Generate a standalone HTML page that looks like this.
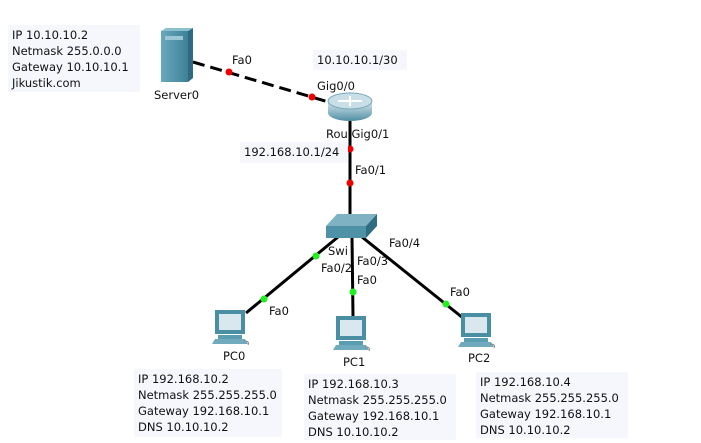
<!DOCTYPE html>
<html><head><style>
body{margin:0;width:701px;height:443px;background:#fff;overflow:hidden;position:relative;font-family:"DejaVu Sans","Liberation Sans",sans-serif;font-size:11.5px;color:#111}
.b{position:absolute;background:#f5f7fc;line-height:16px;padding:2px 4px;box-sizing:border-box;white-space:nowrap}
.t{position:absolute;white-space:nowrap;line-height:13px}
svg{position:absolute;left:0;top:0}
</style></head><body>
<svg width="701" height="443">
<defs>
<linearGradient id="sv" x1="0" x2="1"><stop offset="0" stop-color="#6aa9bd"/><stop offset="1" stop-color="#3e8197"/></linearGradient>
<linearGradient id="rt" x1="0" y1="0" x2="0" y2="1"><stop offset="0" stop-color="#dbe9ef"/><stop offset="1" stop-color="#4f8fa4"/></linearGradient>
<g id="pc"><rect x="3" y="0" width="30" height="24" fill="#4a8ea3"/><rect x="7" y="4" width="22" height="16" fill="#d8e8ee"/><rect x="6" y="25" width="24" height="4" fill="#5a9db0"/><polygon points="0,34 36,34 33,29 3,29" fill="#6faabd"/><path d="M32 31 q6 0 4 4" stroke="#888" fill="none"/></g>
</defs>
<line x1="193" y1="62" x2="332" y2="103" stroke="#000" stroke-width="3" stroke-dasharray="12,6"/>
<line x1="350" y1="120" x2="350" y2="215" stroke="#000" stroke-width="3"/>
<line x1="338" y1="237" x2="246" y2="313" stroke="#000" stroke-width="3"/>
<line x1="352" y1="237" x2="353" y2="316" stroke="#000" stroke-width="3"/>
<line x1="362" y1="237" x2="463" y2="318" stroke="#000" stroke-width="3"/>
<rect x="161" y="31" width="27" height="51" fill="url(#sv)"/><polygon points="188,31 193,28 193,78 188,82" fill="#2d6b80"/><polygon points="161,31 166,28 193,28 188,31" fill="#8cc0cf"/><rect x="165" y="36" width="18" height="4" fill="#9cc8d6"/>
<path d="M328 101 v12 a22 8 0 0 0 44 0 v-12" fill="url(#rt)"/><ellipse cx="350" cy="101" rx="22" ry="8" fill="#c8dfe7" stroke="#7aa9ba"/>
<path d="M338 101 h24 M350 96 v10" stroke="#fff" stroke-width="2"/>
<polygon points="326,226 337,214 377,214 366,226" fill="#7fb3c3"/><rect x="326" y="226" width="40" height="12" fill="#4f91a6"/><polygon points="366,226 377,214 377,226 366,238" fill="#2f6e82"/>
<g fill="#e00"><circle cx="229" cy="72" r="3.5"/><circle cx="312" cy="97" r="3.5"/><circle cx="350" cy="149" r="3.5"/><circle cx="350" cy="183" r="3.5"/></g>
<g fill="#2e2"><circle cx="316" cy="256" r="3.5"/><circle cx="264" cy="299" r="3.5"/><circle cx="353" cy="292" r="3.5"/><circle cx="446" cy="304" r="3.5"/></g>
<use href="#pc" x="212" y="310"/><use href="#pc" x="333" y="316"/><use href="#pc" x="458" y="313"/>
</svg>
<div class="b" style="left:8px;top:25px;width:132px;height:67px">IP 10.10.10.2<br>Netmask 255.0.0.0<br>Gateway 10.10.10.1<br>Jikustik.com</div>
<div class="b" style="left:313px;top:50px;width:94px;height:20px;line-height:16px">10.10.10.1/30</div>
<div class="b" style="left:240px;top:142px;width:108px;height:21px">192.168.10.1/24</div>
<div class="b" style="left:134px;top:369px;width:148px;height:68px">IP 192.168.10.2<br>Netmask 255.255.255.0<br>Gateway 192.168.10.1<br>DNS 10.10.10.2</div>
<div class="b" style="left:304px;top:374px;width:152px;height:66px">IP 192.168.10.3<br>Netmask 255.255.255.0<br>Gateway 192.168.10.1<br>DNS 10.10.10.2</div>
<div class="b" style="left:476px;top:372px;width:152px;height:66px">IP 192.168.10.4<br>Netmask 255.255.255.0<br>Gateway 192.168.10.1<br>DNS 10.10.10.2</div>
<div class="t" style="left:154px;top:89px">Server0</div>
<div class="t" style="left:232px;top:54px">Fa0</div>
<div class="t" style="left:317px;top:80px">Gig0/0</div>
<div class="t" style="left:326px;top:128px">Rou Gig0/1</div>
<div class="t" style="left:355px;top:164px">Fa0/1</div>
<div class="t" style="left:328px;top:245px">Swi</div>
<div class="t" style="left:389px;top:237px">Fa0/4</div>
<div class="t" style="left:357px;top:255px">Fa0/3</div>
<div class="t" style="left:321px;top:262px">Fa0/2</div>
<div class="t" style="left:357px;top:274px">Fa0</div>
<div class="t" style="left:269px;top:305px">Fa0</div>
<div class="t" style="left:450px;top:286px">Fa0</div>
<div class="t" style="left:223px;top:350px">PC0</div>
<div class="t" style="left:343px;top:356px">PC1</div>
<div class="t" style="left:468px;top:352px">PC2</div>
</body></html>
